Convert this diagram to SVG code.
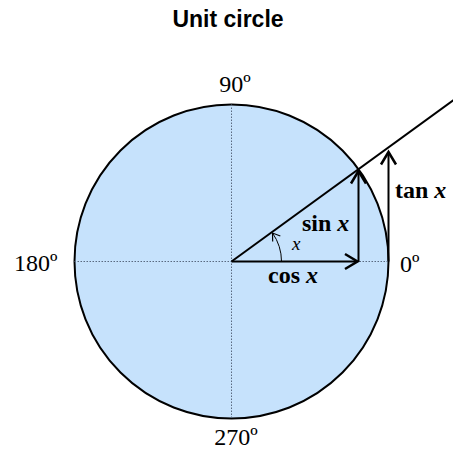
<svg xmlns="http://www.w3.org/2000/svg" width="453" height="450" viewBox="0 0 453 450">
<style>
.lbl{font-family:"Liberation Serif","Times New Roman",serif;font-size:24px;fill:#000}
.b{font-weight:bold;font-size:24px}
.i{font-style:italic}
.title{font-family:"Liberation Sans",Arial,sans-serif;font-weight:bold;font-size:23px}
.dot{stroke:#5a6a80;stroke-width:1;stroke-dasharray:1.5 1.5;fill:none}
.vec{stroke:#000;stroke-width:2;fill:none}
</style>
<defs>
<marker id="ah" markerUnits="userSpaceOnUse" markerWidth="20" markerHeight="20" viewBox="-12 -8 14 16" refX="0" refY="0" orient="auto">
<path d="M-10,-6 L0,0 L-10,6" fill="none" stroke="#000" stroke-width="2"/>
</marker>
<marker id="ahs" markerUnits="userSpaceOnUse" markerWidth="14" markerHeight="14" viewBox="-8 -6 10 12" refX="0" refY="0" orient="auto">
<path d="M-6,-4 L0,0 L-6,4" fill="none" stroke="#000" stroke-width="1"/>
</marker>
</defs>
<text class="title" x="228" y="27" text-anchor="middle">Unit circle</text>
<g id="circle">
<circle cx="231.5" cy="261.5" r="157" fill="#c6e2fc" stroke="#000" stroke-width="2"/>
</g>
<g id="axes">
<line class="dot" x1="74.5" y1="261.5" x2="388.5" y2="261.5"/>
<line class="dot" x1="231.5" y1="104.5" x2="231.5" y2="418.5"/>
</g>
<g id="connectors">
<line class="vec" x1="231.5" y1="261.5" x2="460" y2="95.5"/>
<line class="vec" x1="231.5" y1="261.5" x2="357.5" y2="261.5" marker-end="url(#ah)"/>
<line class="vec" x1="358.5" y1="261.5" x2="358.5" y2="171" marker-end="url(#ah)"/>
<line class="vec" x1="388.5" y1="261.5" x2="388.5" y2="152" marker-end="url(#ah)"/>
<path d="M281.5,261.5 A50,50 0 0 0 272.5,233" fill="none" stroke="#000" stroke-width="1" marker-end="url(#ahs)"/>
</g>
<g id="labels">
<text class="lbl" x="235" y="92" text-anchor="middle">90º</text>
<text class="lbl" x="236" y="445" text-anchor="middle">270º</text>
<text class="lbl" x="14" y="271">180º</text>
<text class="lbl" x="400" y="272">0º</text>
<text class="lbl i" x="292" y="250" style="font-size:19px">x</text>
<text class="lbl b" x="268" y="283">cos <tspan class="i">x</tspan></text>
<text class="lbl b" x="302" y="231">sin <tspan class="i">x</tspan></text>
<text class="lbl b" x="395" y="198">tan <tspan class="i">x</tspan></text>
</g>
</svg>
